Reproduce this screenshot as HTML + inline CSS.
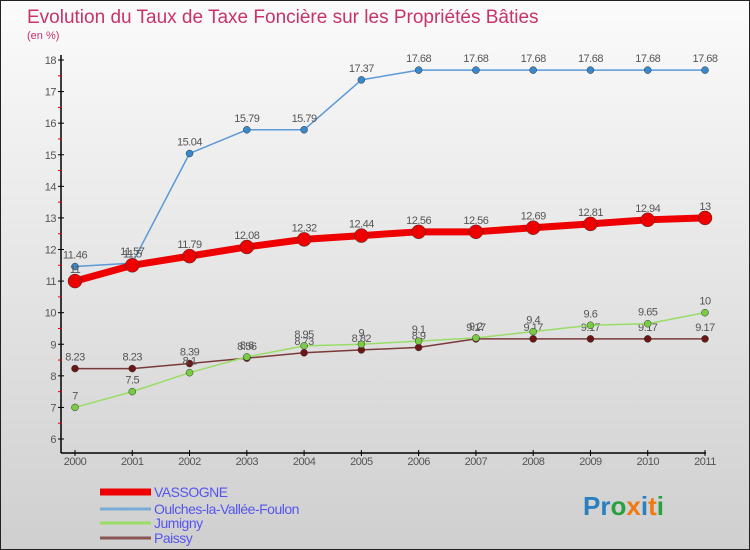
<!DOCTYPE html>
<html><head><meta charset="utf-8"><style>
html,body{margin:0;padding:0;}
body{width:750px;height:550px;overflow:hidden;font-family:"Liberation Sans",sans-serif;}
svg{display:block;}
</style></head><body>
<svg width="750" height="550" viewBox="0 0 750 550" xmlns="http://www.w3.org/2000/svg">
<defs><linearGradient id="bg" x1="0" y1="0" x2="0" y2="1"><stop offset="0" stop-color="#fbfbfb"/><stop offset="1" stop-color="#cfcfcf"/></linearGradient></defs>
<rect x="0.5" y="0.5" width="749" height="549" fill="url(#bg)" stroke="#222"/>
<text x="27" y="23" font-size="19" fill="#c8336a">Evolution du Taux de Taxe Foncière sur les Propriétés Bâties</text>
<text x="27" y="39" font-size="11" fill="#c8336a">(en %)</text>
<g id="axes"></g>
<g id="series"></g>
<g id="legend"></g>
<g font-size="26" font-weight="bold">
<text x="583" y="515"><tspan fill="#2a7fc0">Pr</tspan><tspan fill="#2aa040">o</tspan><tspan fill="#f07a10">x</tspan><tspan fill="#2a7fc0">i</tspan><tspan fill="#f07a10">t</tspan><tspan fill="#2aa040">i</tspan></text>
</g>
</svg>
<script>
const years=[2000,2001,2002,2003,2004,2005,2006,2007,2008,2009,2010,2011];
const vassogne=[11,11.5,11.79,12.08,12.32,12.44,12.56,12.56,12.69,12.81,12.94,13];
const oulches=[11.46,11.57,15.04,15.79,15.79,17.37,17.68,17.68,17.68,17.68,17.68,17.68];
const jumigny=[7,7.5,8.1,8.6,8.95,9,9.1,9.2,9.4,9.6,9.65,10];
const paissy=[8.23,8.23,8.39,8.56,8.73,8.82,8.9,9.17,9.17,9.17,9.17,9.17];
const yTicks=[6,7,8,9,10,11,12,13,14,15,16,17,18];
const NS="http://www.w3.org/2000/svg";
const X=i=>75+i*(630/11);
const Y=v=>439-(v-6)*(379/12);
function mk(tag,attrs,parent){const e=document.createElementNS(NS,tag);for(const k in attrs)e.setAttribute(k,attrs[k]);parent.appendChild(e);return e;}
const axes=document.getElementById('axes');
let a=mk('line',{x1:61,y1:55,x2:61,y2:453,stroke:'#000','stroke-width':1.5},axes);


a=mk('line',{x1:61,y1:453,x2:706,y2:453,stroke:'#000','stroke-width':1.5},axes);


yTicks.forEach(v=>{
  mk('line',{x1:58,y1:Y(v),x2:64,y2:Y(v),stroke:'#000'},axes);
  if(v<18)mk('line',{x1:58,y1:Y(v+0.5),x2:62,y2:Y(v+0.5),stroke:'#d00'},axes);
  const t=mk('text',{x:56,y:Y(v)+4,'font-size':11,fill:'#555','text-anchor':'end','letter-spacing':'-0.5'},axes);
  t.textContent=v;
  
  
});
years.forEach((y,i)=>{
  mk('line',{x1:X(i),y1:450,x2:X(i),y2:456,stroke:'#000'},axes);
  const t=mk('text',{x:X(i),y:465,'font-size':11,fill:'#555','text-anchor':'middle','letter-spacing':'-0.5'},axes);
  t.textContent=y;
  
  
});
const ser=document.getElementById('series');
function draw(vals,color,w,r,dot,name){
  const g=mk('g',{},ser);
  
  
  mk('polyline',{points:vals.map((v,i)=>X(i)+','+Y(v)).join(' '),fill:'none',stroke:color,'stroke-width':w,'stroke-linejoin':'round'},g);
  vals.forEach((v,i)=>{
    const c=mk('circle',{cx:X(i),cy:Y(v),r:r,fill:dot,stroke:'#333','stroke-width':0.5},g);
    
    
    const t=mk('text',{x:X(i),y:Y(v)-8,'font-size':11,fill:'#555','text-anchor':'middle','letter-spacing':'-0.5'},g);
    t.textContent=v;
    
    
  });
}
draw(paissy,'#7a3a3a',1.5,3.5,'#6b1515','paissy');
draw(jumigny,'#99dd66',1.5,3.5,'#77cc44','jumigny');
draw(oulches,'#5a9ad6',1.5,3.5,'#3a88cc','oulches');
draw(vassogne,'#ee0000',7,7,'#ee0000','vassogne');
const lg=document.getElementById('legend');
const items=[['VASSOGNE','#ee0000',7,492],['Oulches-la-Vallée-Foulon','#7aaad6',3,509],['Jumigny','#99dd66',3,523],['Paissy','#8a5555',3,538]];
items.forEach(it=>{
  const g=mk('g',{},lg);
  
  
  mk('line',{x1:100,y1:it[3],x2:151,y2:it[3],stroke:it[1],'stroke-width':it[2]},g);
  const t=mk('text',{x:154,y:it[3]+5,'font-size':14,fill:'#5555ee','letter-spacing':'-0.5'},g);
  t.textContent=it[0];
});
</script>
</body></html>
